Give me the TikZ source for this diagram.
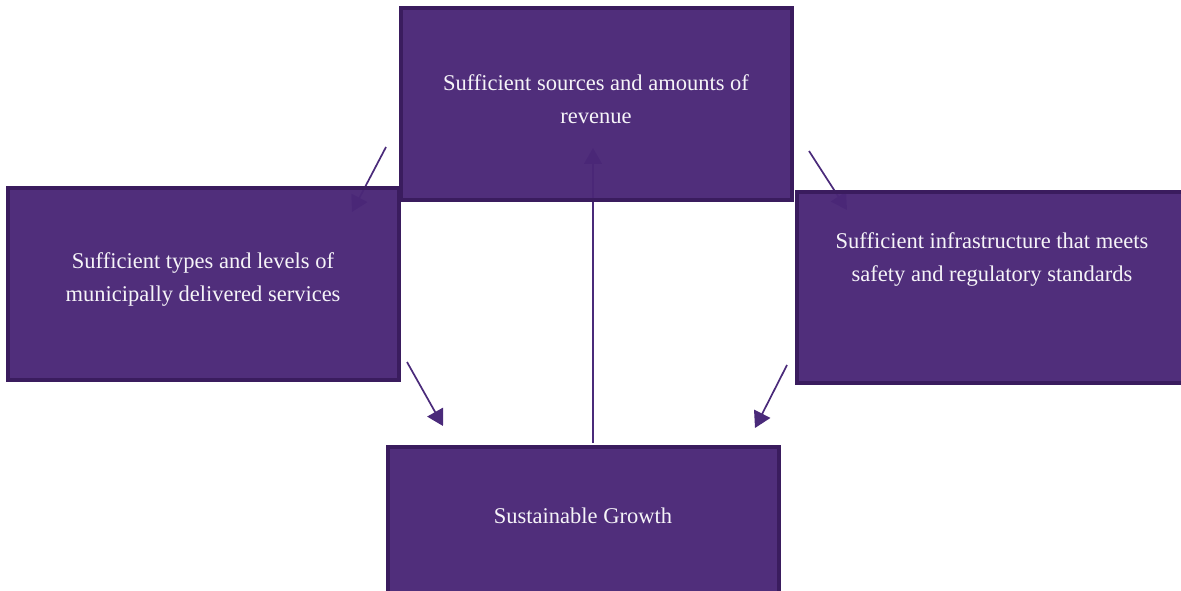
\documentclass[tikz,border=0pt]{standalone}
\usepackage{fontspec}
\setmainfont{Liberation Serif}
\usetikzlibrary{arrows.meta}
\definecolor{boxfill}{HTML}{4A2777}
\definecolor{boxline}{HTML}{3A1C5E}
\definecolor{arr}{HTML}{4A2A7A}
\begin{document}
\begin{tikzpicture}[x=1pt,y=-1pt,
  box/.style={draw=boxline,line width=4pt,fill=boxfill,fill opacity=0.97},
  lbl/.style={text=white!95!boxfill,align=center,font=\fontsize{22.5}{33}\selectfont},
  conn/.style={draw=arr,line width=1.7pt,-{Triangle[length=16pt,width=18pt]}}]
\useasboundingbox (0,0) rectangle (1181,591);
\clip (0,0) rectangle (1181,591);
% connector end points
\coordinate (a1) at (386,147); \coordinate (a2) at (352,212);
\coordinate (b1) at (809,151); \coordinate (b2) at (847,210);
\coordinate (c1) at (407,362); \coordinate (c2) at (443,426);
\coordinate (d1) at (787,365); \coordinate (d2) at (755,428);
\coordinate (e1) at (593,443); \coordinate (e2) at (593,148);
\draw[conn] (a1) -- (a2);
\draw[conn] (b1) -- (b2);
\draw[conn] (e1) -- (e2);
% boxes
\draw[box] (401,8) rectangle (792,200);
\draw[box] (8,188) rectangle (399,380);
\draw[box] (797,192) rectangle (1185,383);
\draw[box] (388,447) rectangle (779,600);
\node[lbl] (top) at (596,99) {Sufficient sources and amounts of\\revenue};
\node[lbl] (lt) at (203,280) {Sufficient types and levels of\\municipally delivered services};
\node[lbl] (rt) at (992,260) {Sufficient infrastructure that meets\\safety and regulatory standards};
\node[lbl] (bot) at (583,516) {Sustainable Growth};
\draw[conn] (c1) -- (c2);
\draw[conn] (d1) -- (d2);
\end{tikzpicture}
\end{document}
